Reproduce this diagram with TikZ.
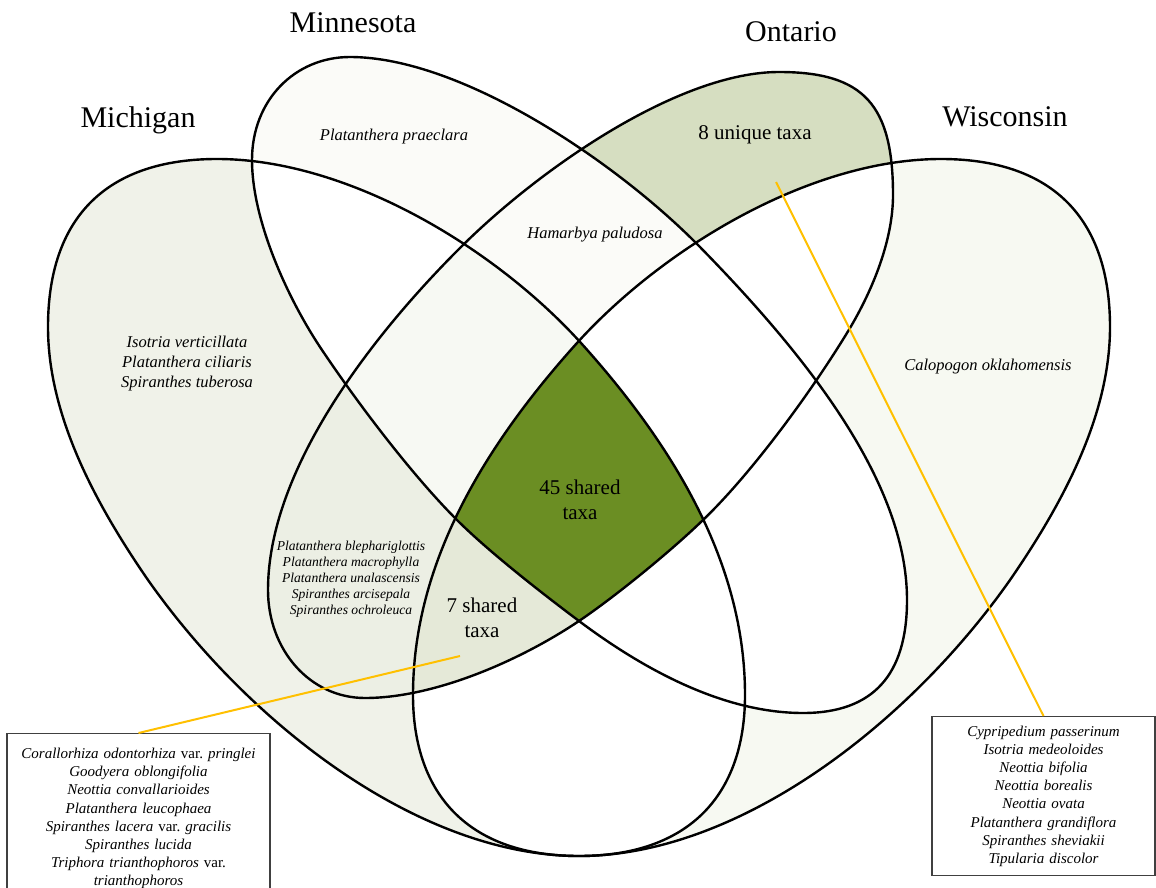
\documentclass[tikz,border=0pt]{standalone}
\usepackage{fontspec}
\setmainfont{Liberation Serif}
\usepackage{xcolor}
\definecolor{cMich}{RGB}{240, 242, 233}
\definecolor{cMinn}{RGB}{251, 251, 248}
\definecolor{cOnt}{RGB}{214, 222, 193}
\definecolor{cWisc}{RGB}{247, 249, 242}
\definecolor{cMiOn}{RGB}{236, 239, 228}
\definecolor{cSeven}{RGB}{229, 233, 216}
\definecolor{cTri}{RGB}{247, 249, 243}
\definecolor{cCore}{RGB}{107, 142, 35}
\definecolor{cLead}{RGB}{255, 192, 0}
\definecolor{bBox}{RGB}{64, 64, 64}

% set outlines, in pixel units of the figure
\newcommand{\pMich}{(217,159) .. controls (347,159) and (494,247) .. (581,343)
    .. controls (681,454) and (745,570) .. (745,695)
    .. controls (745,795) and (689,856) .. (579,856)
    .. controls (420,856) and (250,725) .. (148,580)
    .. controls (97,506) and (48,417) .. (48,327)
    .. controls (48,217) and (107,159) .. (217,159) -- cycle}
\newcommand{\pWisc}{(941,159) .. controls (811,159) and (664,247) .. (577,343)
    .. controls (477,454) and (413,570) .. (413,695)
    .. controls (413,795) and (469,856) .. (579,856)
    .. controls (738,856) and (908,725) .. (1010,580)
    .. controls (1061,506) and (1110,417) .. (1110,327)
    .. controls (1110,217) and (1051,159) .. (941,159) -- cycle}
\newcommand{\pMinn}{(350,57) .. controls (460,57) and (614,160) .. (698,245)
    .. controls (803,352) and (907,480) .. (907,600)
    .. controls (907,675) and (873,713) .. (803,713)
    .. controls (723,713) and (643,669) .. (579,621)
    .. controls (543,594) and (489,552) .. (457,520)
    .. controls (411,474) and (356,401) .. (320,347)
    .. controls (287,297) and (252,220) .. (252,160)
    .. controls (252,100) and (295,57) .. (350,57) -- cycle}
\newcommand{\pOnt}{(779,72) .. controls (679,72) and (541,168) .. (463,245)
    .. controls (371,336) and (268,470) .. (268,590)
    .. controls (268,650) and (310,698) .. (365,698)
    .. controls (435,698) and (521,660) .. (579,621)
    .. controls (616,596) and (671,551) .. (703,520)
    .. controls (753,472) and (814,388) .. (850,328)
    .. controls (873,289) and (893,240) .. (893,195)
    .. controls (893,105) and (864,72) .. (779,72) -- cycle}

\begin{document}
\begin{tikzpicture}[
    x=1pt, y=-1pt,
    outline/.style={draw=black, line width=2.4pt},
    title/.style={font=\fontsize{30}{36}\selectfont, inner sep=0pt},
    count/.style={font=\fontsize{21}{25}\selectfont, align=center, inner sep=0pt},
    taxon/.style={font=\fontsize{16.5}{20}\selectfont\itshape, align=center, inner sep=0pt},
    minor/.style={font=\fontsize{13.6}{16}\selectfont\itshape, align=center, inner sep=0pt},
    listbox/.style={draw=bBox, line width=1.3pt, fill=white, align=center,
        font=\fontsize{15}{18.2}\selectfont\itshape, inner xsep=4pt, inner ysep=9pt, anchor=north},
    lead/.style={draw=cLead, line width=2pt}
]
\useasboundingbox (0,0) rectangle (1156,888);
\fill[white] (0,0) rectangle (1156,888);

% single-set colours
\fill[cMich] \pMich;
\fill[cWisc] \pWisc;
\fill[cMinn] \pMinn;
\fill[cOnt] \pOnt;

% every overlap starts white
\begin{scope} \clip \pMich; \fill[white] \pWisc; \end{scope}
\begin{scope} \clip \pMich; \fill[white] \pMinn; \end{scope}
\begin{scope} \clip \pMich; \fill[white] \pOnt; \end{scope}
\begin{scope} \clip \pWisc; \fill[white] \pMinn; \end{scope}
\begin{scope} \clip \pWisc; \fill[white] \pOnt; \end{scope}
\begin{scope} \clip \pMinn; \fill[white] \pOnt; \end{scope}

% tinted overlaps
\begin{scope} \clip \pMinn; \fill[cMinn] \pOnt; \end{scope}
\begin{scope} \clip \pMinn; \clip \pOnt; \fill[white] \pWisc; \end{scope}
\begin{scope} \clip \pMich; \fill[cMiOn] \pOnt; \end{scope}
\begin{scope} \clip \pMich; \clip \pOnt; \fill[cSeven] \pWisc; \end{scope}
\begin{scope} \clip \pMich; \clip \pOnt; \fill[cTri] \pMinn; \end{scope}
\begin{scope} \clip \pMich; \clip \pOnt; \clip \pMinn; \fill[cCore] \pWisc; \end{scope}

% outlines
\draw[outline] \pMich;
\draw[outline] \pWisc;
\draw[outline] \pMinn;
\draw[outline] \pOnt;

% set names
\node[title] (tMinn) at (353,23) {Minnesota};
\node[title] (tOnt) at (791,32) {Ontario};
\node[title] (tMich) at (138,120) {Michigan};
\node[title] (tWisc) at (1005,117) {Wisconsin};

% region labels
\node[taxon] (praeclara) at (394,137) {Platanthera praeclara};
\node[count] (ontUnique) at (755,135) {8 unique taxa};
\node[taxon] (hamarbya) at (595,235) {Hamarbya paludosa};
\node[taxon] (michOnly) at (187,364) {Isotria verticillata\\Platanthera ciliaris\\Spiranthes tuberosa};
\node[taxon] (calopogon) at (988,367) {Calopogon oklahomensis};
\node[count] (core) at (580,500) {45 shared\\taxa};
\node[minor] (miOn) at (351,579) {Platanthera blephariglottis\\Platanthera macrophylla\\Platanthera unalascensis\\Spiranthes arcisepala\\Spiranthes ochroleuca};
\node[count] (seven) at (482,618) {7 shared\\taxa};

% lists of taxa
\node[listbox, text width=255pt, minimum height=170pt] (boxSeven) at (138.5,733) {
    Corallorhiza odontorhiza \textup{var.}\ pringlei\\
    Goodyera oblongifolia\\
    Neottia convallarioides\\
    Platanthera leucophaea\\
    Spiranthes lacera \textup{var.}\ gracilis\\
    Spiranthes lucida\\
    Triphora trianthophoros \textup{var.}\\
    trianthophoros
};
\node[listbox, text width=215pt] (boxOnt) at (1043.5,716) {
    Cypripedium passerinum\\
    Isotria medeoloides\\
    Neottia bifolia\\
    Neottia borealis\\
    Neottia ovata\\
    Platanthera grandiflora\\
    Spiranthes sheviakii\\
    Tipularia discolor
};

% leader lines
\coordinate (sevenTip) at (460,656);
\coordinate (ontTip) at (776,182);
\draw[lead] (sevenTip) -- (boxSeven.north);
\draw[lead] (ontTip) -- (boxOnt.north);

\end{tikzpicture}
\end{document}
